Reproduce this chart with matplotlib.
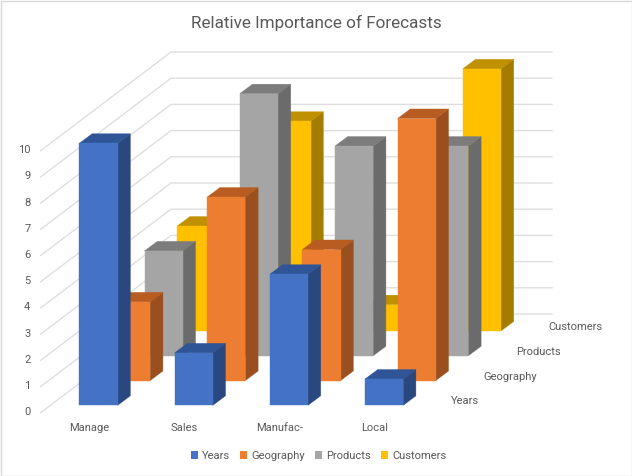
#!/usr/bin/env python
"""
Excel style 3D column chart, relative importance of forecasts
"""

import matplotlib
matplotlib.use("Agg")
import matplotlib.pyplot as plt
from matplotlib.patches import Patch, Polygon, Rectangle

categories = ["Manage", "Sales", "Manufac-", "Local"]
series_names = ["Years", "Geography", "Products", "Customers"]

years = [10, 2, 5, 1]
geography = [3, 7, 5, 10]
products = [4, 10, 8, 8]
customers = [4, 8, 1, 10]
all_series = [years, geography, products, customers]

value_ticks = list(range(0, 11))

front_colors = ["#4472C4", "#ED7D31", "#A5A5A5", "#FFC000"]
top_colors = ["#2F5597", "#B85C22", "#7C7C7C", "#BF9000"]
side_colors = ["#2A4880", "#9A501E", "#6B6B6B", "#A67C00"]

# oblique projection of the chart space onto pixels
X0, Y0 = 79.4, 405.3
CAT_STEP = 95.2
SERIES_DX, SERIES_DY = 32.6, -24.8
UNIT = 26.2
BAR_W = 38.2
DEPTH_DX, DEPTH_DY = 12.7, -9.5

GRID_LEFT = 40.7
GRID_BACK = 171
GRID_RIGHT = 552
GRID_COLOR = "#DEDEDE"
TEXT_COLOR = "#595959"
LABEL_SIZE = 8.0

plt.rcParams['font.family'] = ['Roboto', 'DejaVu Sans']

fig = plt.figure(figsize=(6.32, 4.76), dpi=100)
ax = fig.add_axes([0, 0, 1, 1])
ax.set_xlim(0, 632)
ax.set_ylim(476, 0)
ax.axis("off")


def project(cat, ser, value):
    x = X0 + cat * CAT_STEP + ser * SERIES_DX
    y = Y0 + ser * SERIES_DY - value * UNIT
    return x, y


def draw_bar(cat, ser, value):
    x, base = project(cat, ser, 0)
    _, top = project(cat, ser, value)
    r = x + BAR_W
    dx, dy = DEPTH_DX, DEPTH_DY
    ax.add_patch(Polygon([(r, base), (r + dx, base + dy), (r + dx, top + dy), (r, top)],
                         facecolor=side_colors[ser], edgecolor=side_colors[ser], lw=0.3))
    ax.add_patch(Polygon([(x, top), (x + dx, top + dy), (r + dx, top + dy), (r, top)],
                         facecolor=top_colors[ser], edgecolor=top_colors[ser], lw=0.3))
    ax.add_patch(Polygon([(x, base), (r, base), (r, top), (x, top)],
                         facecolor=front_colors[ser], edgecolor=front_colors[ser], lw=0.3))


# walls
for v in value_ticks:
    y_front = 412.7 - v * UNIT
    y_back = 314 - v * UNIT
    ax.plot([GRID_LEFT, GRID_BACK, GRID_RIGHT], [y_front, y_back, y_back],
            color=GRID_COLOR, lw=1, zorder=0)
    ax.text(30.5, y_front - 0.5, str(v), ha="right", va="center",
            fontsize=LABEL_SIZE, color=TEXT_COLOR)

# back series first so that the front ones cover them
for ser in range(len(all_series) - 1, -1, -1):
    for cat, value in enumerate(all_series[ser]):
        draw_bar(cat, ser, value)

for cat, name in enumerate(categories):
    x, y = project(cat, 0, 0)
    ax.text(x + 10, y + 23, name, ha="center", va="center",
            fontsize=LABEL_SIZE, color=TEXT_COLOR)

for ser, name in enumerate(series_names):
    x, y = project(len(categories) - 1, ser, 0)
    ax.text(x + 86, y - 4, name, ha="left", va="center",
            fontsize=LABEL_SIZE, color=TEXT_COLOR)

ax.text(316, 23, "Relative Importance of Forecasts", ha="center", va="center",
        fontsize=12.3, color=TEXT_COLOR)

handles = [Patch(facecolor=c, edgecolor="none") for c in front_colors]
ax.legend(handles, series_names, loc="center", bbox_to_anchor=(318.5 / 632, 1 - 456 / 476),
          ncol=4, frameon=False, fontsize=LABEL_SIZE, labelcolor=TEXT_COLOR,
          handlelength=0.62, handleheight=0.62, handletextpad=0.35,
          columnspacing=0.95, borderpad=0)

# chart area frame
ax.add_patch(Rectangle((0.5, 0.5), 631, 475, fill=False, edgecolor="#D9D9D9", lw=1))

fig.savefig("out.png", dpi=100)
